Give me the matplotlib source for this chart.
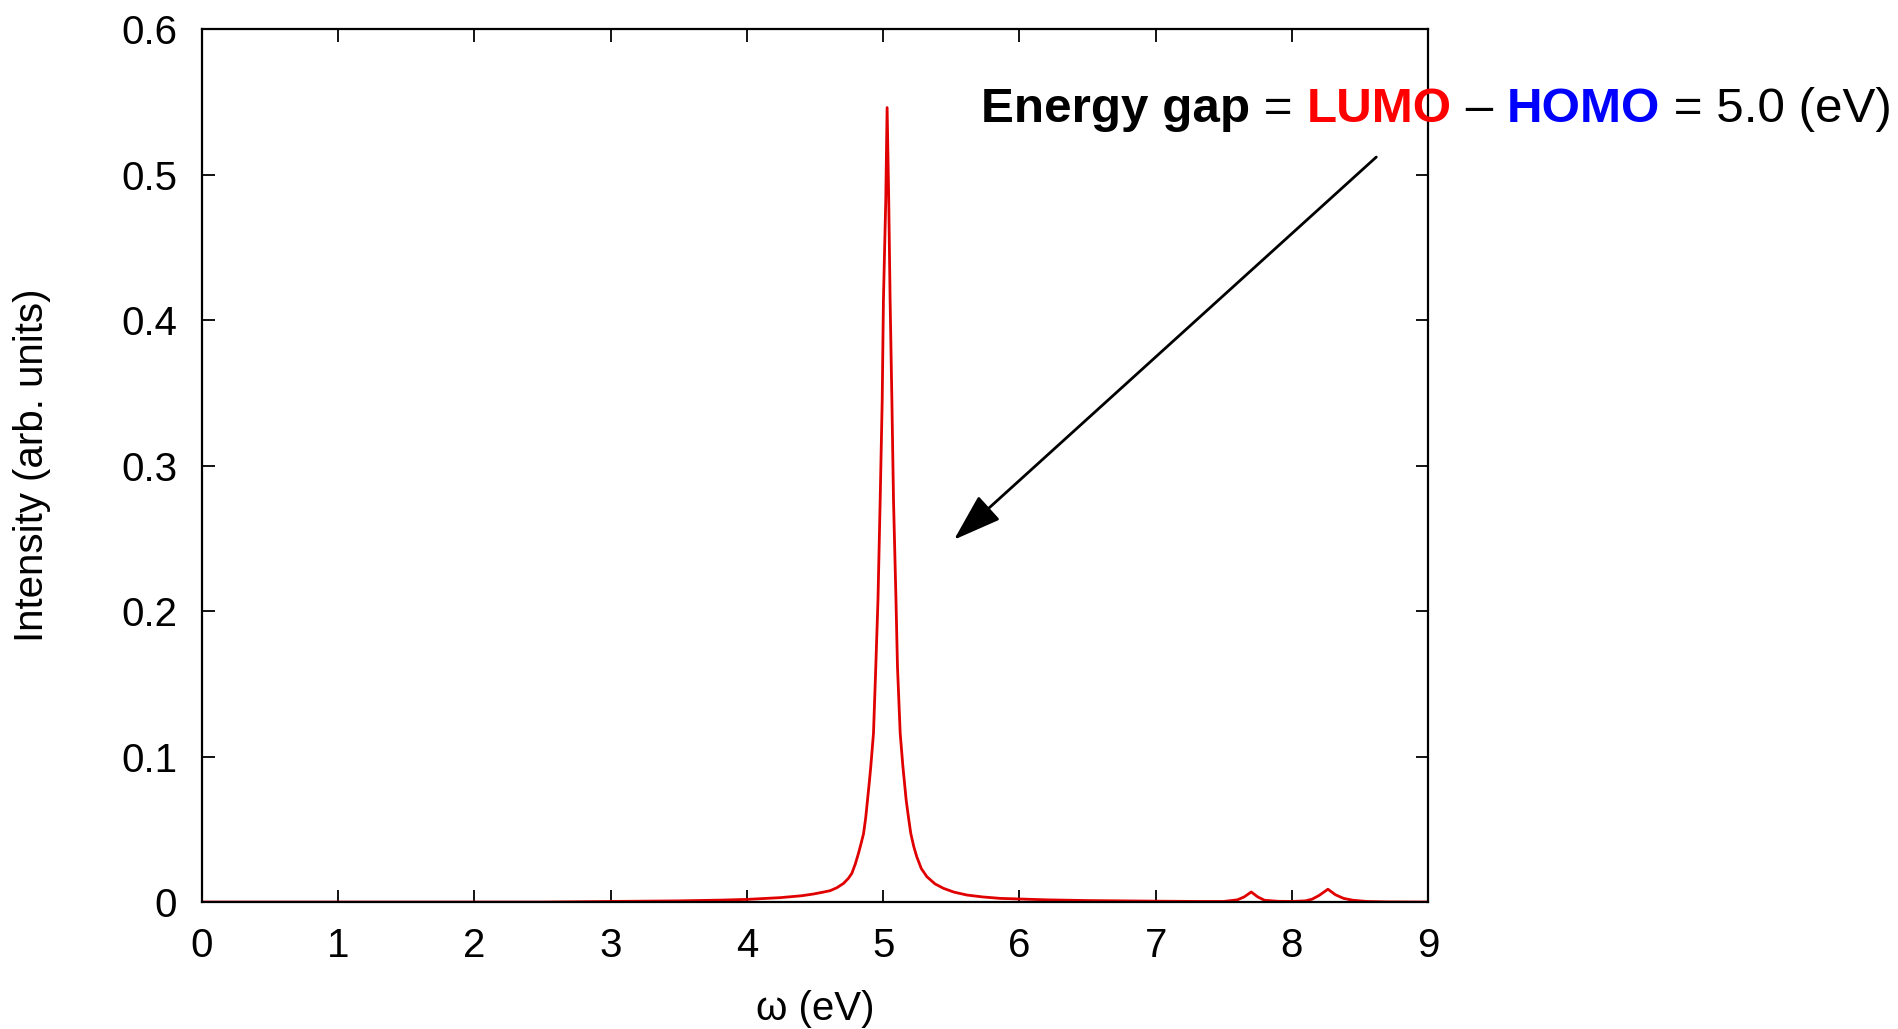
import matplotlib
matplotlib.use("Agg")
import matplotlib.pyplot as plt

plt.rcParams['font.family'] = ['Liberation Sans', 'DejaVu Sans']

# spectrum
omega = [0.0, 2.5, 3.0, 3.5, 3.8, 4.0, 4.244, 4.4, 4.488, 4.56, 4.611, 4.66,
         4.709, 4.745, 4.770, 4.795, 4.819, 4.84, 4.856, 4.872, 4.885, 4.898,
         4.909, 4.929, 4.946, 4.962, 4.978, 4.993, 5.002, 5.019, 5.029, 5.041,
         5.051, 5.064, 5.076, 5.094, 5.105, 5.125, 5.145, 5.169, 5.186, 5.203,
         5.225, 5.247, 5.28, 5.321, 5.38, 5.443, 5.52, 5.615, 5.73, 5.859,
         6.2, 6.5, 7.0, 7.3, 7.5, 7.6, 7.65, 7.702, 7.75, 7.8, 7.9, 8.0, 8.1,
         8.15, 8.2, 8.265, 8.32, 8.38, 8.45, 8.55, 8.7, 9.0]
intensity = [0.0, 0.0, 0.0004, 0.0008, 0.0013, 0.0018, 0.003, 0.0043, 0.0055,
             0.0068, 0.0078, 0.0098, 0.0128, 0.0163, 0.0197, 0.026, 0.0335,
             0.041, 0.047, 0.058, 0.070, 0.082, 0.093, 0.116, 0.162, 0.208,
             0.276, 0.345, 0.414, 0.482, 0.546, 0.482, 0.414, 0.345, 0.276,
             0.208, 0.162, 0.116, 0.093, 0.070, 0.058, 0.047, 0.038, 0.031,
             0.023, 0.0174, 0.0125, 0.0094, 0.0068, 0.0048, 0.0035, 0.0025,
             0.0015, 0.001, 0.0006, 0.0004, 0.0004, 0.0015, 0.0035, 0.0069,
             0.0035, 0.0012, 0.0005, 0.0004, 0.0008, 0.002, 0.0045, 0.0088,
             0.005, 0.0025, 0.0012, 0.0004, 0.0001, 0.0]

xticks = list(range(0, 10))
yticks = [0, 0.1, 0.2, 0.3, 0.4, 0.5, 0.6]
ytick_labels = ['0', '0.1', '0.2', '0.3', '0.4', '0.5', '0.6']

fig = plt.figure(figsize=(18.99, 10.29), dpi=100)
ax = fig.add_axes([0.1064, 0.1234, 0.6456, 0.8484])

ax.plot(omega, intensity, color='#e00000', lw=2)

ax.set_xlim(0, 9)
ax.set_ylim(0, 0.6)
ax.set_xticks(xticks)
ax.set_yticks(yticks)
ax.set_yticklabels(ytick_labels)
ax.tick_params(direction='in', length=9, width=1.3, top=True, right=True,
               labelsize=29, pad=18)
for s in ax.spines.values():
    s.set_linewidth(1.6)

ax.set_xlabel('ω (eV)', fontsize=29, labelpad=18)
ax.set_ylabel('Intensity (arb. units)', fontsize=29, labelpad=50)

# arrow
ax.annotate('', xy=(5.52, 0.249), xytext=(8.62, 0.512),
            arrowprops=dict(arrowstyle='-|>,head_length=3.0,head_width=1.0',
                            color='black', lw=2, shrinkA=0, shrinkB=0),
            annotation_clip=False)

# multi-coloured note, pieces placed one after another on the same baseline
pieces = [('Energy gap', 'black', 'bold'), (' = ', 'black', 'normal'),
          ('LUMO', 'red', 'bold'), (' – ', 'black', 'normal'),
          ('HOMO', 'blue', 'bold'), (' = 5.0 (eV)', 'black', 'normal')]
renderer = fig.canvas.get_renderer()
W = fig.bbox.width
x = 0.5166 * W
for txt, col, wt in pieces:
    t = fig.text(x / W, 0.8814, txt, color=col, fontweight=wt, fontsize=35.6,
                 va='baseline', ha='left')
    x = t.get_window_extent(renderer).x1

fig.savefig('out.png', dpi=100)
